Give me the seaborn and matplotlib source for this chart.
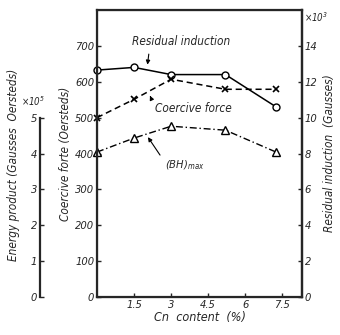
import pandas as pd
import matplotlib
matplotlib.use("Agg")
import matplotlib.pyplot as plt
import seaborn as sns

# datos
cu_content = [0, 1.5, 3, 5.2, 7.25]
residual_kg = [12.65, 12.8, 12.4, 12.4, 10.6]      # x10^3 Gausses
coercive_oe = [500, 551, 607, 579, 579]            # Oersteds
energy_e5 = [4.04, 4.43, 4.76, 4.65, 4.04]         # x10^5 Gauss Oersteds

x_ticks = [1.5, 3, 4.5, 6, 7.5]
x_ticklabels = ["1.5", "3", "4.5", "6", "7.5"]

df = pd.DataFrame({"cu": cu_content,
                   "residual": [v * 50 for v in residual_kg],
                   "coercive": coercive_oe,
                   "energy": [v * 100 for v in energy_e5]})

sns.set_style("ticks")
plt.rcParams['font.family'] = ['DejaVu Sans']
plt.rcParams['font.style'] = 'oblique'
plt.rcParams['font.stretch'] = 'condensed'

fig = plt.figure(figsize=(3.4, 3.35), dpi=100)
pos = [97 / 340, 1 - 297 / 335, 205 / 340, 287 / 335]

# eje exterior: producto de energia (se dibuja primero, debajo)
ax3 = fig.add_axes(pos)
ax3.patch.set_visible(False)
for side in ['right', 'top', 'bottom']:
    ax3.spines[side].set_visible(False)
ax3.set_xticks([])
ax3.set_ylim(0, 8)
ax3.set_yticks(range(0, 6))
ax3.spines['left'].set_position(('outward', 41))
ax3.spines['left'].set_bounds(0, 5)
ax3.spines['left'].set_linewidth(1.6)
ax3.tick_params(axis='y', direction='in', length=3, width=1.0, labelsize=8, pad=2)
ax3.set_ylabel("Energy product (Gausses  Oersteds)", fontsize=8.5)
ax3.yaxis.set_label_coords(-0.375, 0.46)
ax3.text(-0.31, 5.45, r"$\times10^5$", transform=ax3.get_yaxis_transform(),
         fontsize=7, ha='center', va='center')

ax = fig.add_axes(pos)
ax.patch.set_visible(False)

sns.lineplot(x='cu', y='residual', data=df, ax=ax, color='black', lw=1.1,
             marker='o', markersize=5, markerfacecolor='white',
             markeredgecolor='black', markeredgewidth=1.0, clip_on=False)
sns.lineplot(x='cu', y='coercive', data=df, ax=ax, color='black', lw=1.1,
             linestyle=(0, (4, 2.5)), marker='x', markersize=5,
             markeredgecolor='black', markeredgewidth=1.2, clip_on=False)
sns.lineplot(x='cu', y='energy', data=df, ax=ax, color='black', lw=1.0,
             linestyle=(0, (5, 2, 1, 2)), marker='^', markersize=5.5,
             markerfacecolor='white', markeredgecolor='black',
             markeredgewidth=1.0, clip_on=False)

ax.set_xlim(0, 8.3)
ax.set_ylim(0, 800)
ax.set_xticks(x_ticks)
ax.set_xticklabels(x_ticklabels)
ax.set_yticks(range(0, 701, 100))
ax.set_xlabel("Cn  content  (%)", fontsize=9, labelpad=1)
ax.set_ylabel("Coercive forte (Oersteds)", fontsize=8.5, labelpad=2)
ax.tick_params(direction='in', length=3, width=1.0, labelsize=8, pad=2)
for s in ax.spines.values():
    s.set_linewidth(1.6)

# eje derecho: induccion residual
ax2 = ax.twinx()
ax2.set_ylim(0, 16)
ax2.set_yticks(range(0, 15, 2))
ax2.tick_params(direction='in', length=3, width=1.0, labelsize=8, pad=2)
ax2.set_ylabel("Residual induction  (Gausses)", fontsize=8.5, labelpad=4)
ax2.spines['right'].set_linewidth(1.6)
ax2.text(1.01, 0.975, r"$\times10^3$", transform=ax2.transAxes, fontsize=7,
         ha='left', va='center')

# anotaciones
arrow = dict(arrowstyle='-|>', color='black', lw=0.8, mutation_scale=6)
ax.annotate("Residual induction", xy=(2.03, 640), xytext=(3.4, 712),
            fontsize=8.5, ha='center', va='center',
            arrowprops=dict(arrow, relpos=(0.18, 0)))
ax.annotate("Coercive force", xy=(2.1, 568), xytext=(3.9, 526),
            fontsize=8.5, ha='center', va='center',
            arrowprops=dict(arrow, relpos=(0, 0.6)))
ax.annotate(r"$(BH)_{max}$", xy=(2.0, 452), xytext=(3.55, 368),
            fontsize=8, ha='center', va='center',
            arrowprops=dict(arrow, relpos=(0, 0.7)))

plt.savefig("out.png", dpi=100)
